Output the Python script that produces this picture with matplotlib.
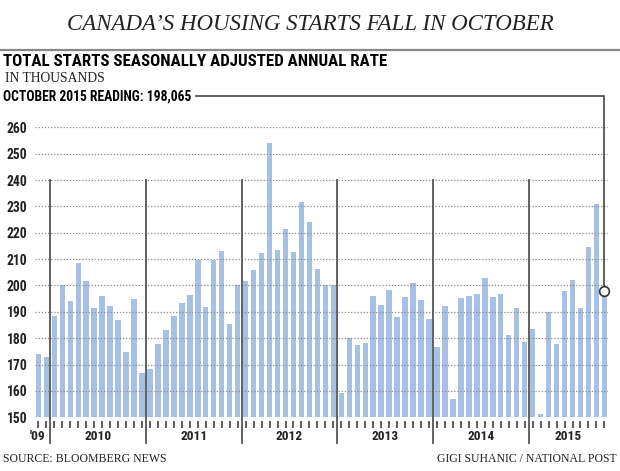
import matplotlib
matplotlib.use("Agg")
import matplotlib.pyplot as plt
from matplotlib.lines import Line2D

# Housing starts, SAAR, thousands (Nov 2009 - Oct 2015)
starts_2009 = [174.0, 173.0]
starts_2010 = [188.4, 200.0, 194.0, 208.5, 201.7, 191.5, 195.9, 192.2, 187.0, 174.9, 194.8, 166.7]
starts_2011 = [168.3, 177.7, 183.1, 188.6, 193.2, 196.5, 209.8, 191.7, 209.8, 213.0, 185.5, 200.2]
starts_2012 = [201.6, 205.8, 212.3, 253.9, 213.3, 221.4, 212.6, 231.7, 224.1, 206.3, 200.0, 200.0]
starts_2013 = [159.1, 180.0, 177.6, 178.2, 195.9, 192.7, 198.2, 188.1, 195.6, 201.0, 194.4, 187.3]
starts_2014 = [176.6, 192.1, 157.0, 195.3, 196.0, 196.8, 203.0, 195.6, 196.8, 181.2, 191.6, 178.6]
starts_2015 = [183.4, 151.1, 190.1, 177.9, 197.9, 202.0, 191.5, 214.6, 230.9, 198.065]

year_labels = ["'09", "2010", "2011", "2012", "2013", "2014", "2015"]
yticks = [150, 160, 170, 180, 190, 200, 210, 220, 230, 240, 250, 260]

years = [starts_2009, starts_2010, starts_2011, starts_2012,
         starts_2013, starts_2014, starts_2015]
values = [v for yr in years for v in yr]
x = list(range(len(values)))

BAR = "#a7c1e5"
DARK = "#222222"
SANS = ["Roboto Condensed", "DejaVu Sans"]
SERIF = ["Liberation Serif", "DejaVu Serif"]

W, H = 620, 471
fig = plt.figure(figsize=(W / 100, H / 100), dpi=100)
fig.patch.set_facecolor("white")


def fy(py):
    return 1 - py / H


def fx(px):
    return px / W


ax = fig.add_axes([fx(35), fy(417.3), fx(608) - fx(35), fy(127.3) - fy(417.3)])
ax.bar(x, [v - 150 for v in values], bottom=150, width=0.68, color=BAR, zorder=1)
ax.set_xlim(-0.42, len(values) - 0.55)
ax.set_ylim(150, 260)

ax.set_yticks(yticks)
ax.set_yticklabels([str(t) for t in yticks], family=SANS, weight="bold",
                   fontsize=9.8, color=DARK)
ax.tick_params(axis="y", length=0, pad=5.5)
ax.yaxis.grid(True, color="#8a8a8a", linestyle=(0, (1, 1.5)), linewidth=0.9)
ax.set_axisbelow("line")

ax.set_xticks(x)
ax.set_xticklabels([])
ax.tick_params(axis="x", length=5, width=1.1, color="#333333")
ax.spines["bottom"].set_position(("outward", 3))
for s in ax.spines.values():
    s.set_visible(False)

# year dividers and year labels
start = 0
for i, yr in enumerate(years):
    if i > 0:
        ax.plot([start - 0.5, start - 0.5], [140.2, 240], color="#555555",
                lw=1.3, clip_on=False, zorder=3)
    center = start + (len(yr) - 1) / 2 if i > 0 else start - 0.1
    ax.text(center, 142.6, year_labels[i], ha="center", va="center",
            family=SANS, weight="bold", fontsize=9.6, color=DARK)
    start += len(yr)

# October reading callout
last = len(values) - 1
ax.plot([19.8, last, last], [271.9, 271.9, values[-1]], color="#444444",
        lw=1.2, clip_on=False, zorder=4)
ax.plot([last], [values[-1]], marker="o", ms=7, mfc="white", mec="#333333",
        mew=1.2, clip_on=False, zorder=5)

# headings
fig.text(0.5, fy(24), "CANADA\u2019S HOUSING STARTS FALL IN OCTOBER", ha="center",
         va="center", family=SERIF, style="italic", fontsize=16.5, color=DARK)
fig.add_artist(Line2D([0, 1], [fy(50), fy(50)], color="#888888", lw=1.6))
fig.text(fx(3), fy(62), "TOTAL STARTS SEASONALLY ADJUSTED ANNUAL RATE", ha="left",
         va="center", family=SANS, weight="bold", fontsize=12.2, color="black")
fig.text(fx(5), fy(78), "IN THOUSANDS", ha="left", va="center", family=SERIF,
         fontsize=9.8, color=DARK)
fig.text(fx(3), fy(97), "OCTOBER 2015 READING: 198,065", ha="left", va="center",
         family=SANS, weight="bold", fontsize=9.8, color="black")

# footer
fig.text(fx(3), fy(459), "SOURCE: BLOOMBERG NEWS", ha="left", va="center",
         family=SERIF, fontsize=8.5, color=DARK)
fig.text(fx(617), fy(459), "GIGI SUHANIC / NATIONAL POST", ha="right", va="center",
         family=SERIF, fontsize=8.5, color=DARK)

fig.savefig("out.png", dpi=100, facecolor="white")
